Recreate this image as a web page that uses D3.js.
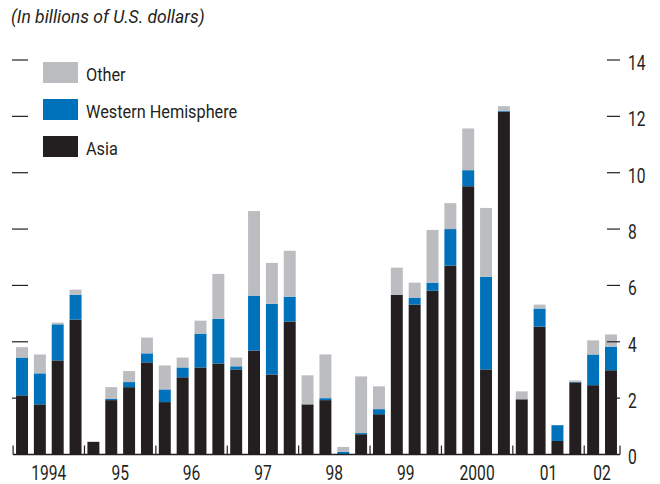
<!DOCTYPE html>
<meta charset="utf-8">
<html>
<head>
    <script src="https://d3js.org/d3.v7.min.js"></script>
    <style>
        body { margin: 0; background: #fff; }
        svg text { font-family: "Roboto", "Liberation Sans", sans-serif; fill: #231f20; }
        /* squeeze text a bit, the original uses a condensed face */
        .narrow-left { transform-box: fill-box; transform-origin: left center; }
        .narrow-mid { transform-box: fill-box; transform-origin: center center; }
    </style>
</head>
<body>
<div id="chart"></div>
<script>
    // quarterly values, 1994Q1 .. 2002Q2
    var quarters = ["94Q1","94Q2","94Q3","94Q4","95Q1","95Q2","95Q3","95Q4",
                    "96Q1","96Q2","96Q3","96Q4","97Q1","97Q2","97Q3","97Q4",
                    "98Q1","98Q2","98Q3","98Q4","99Q1","99Q2","99Q3","99Q4",
                    "00Q1","00Q2","00Q3","00Q4","01Q1","01Q2","01Q3","01Q4",
                    "02Q1","02Q2"];
    var asia = [2.10, 1.78, 3.34, 4.79, 0.45, 1.93, 2.39, 3.27,
                1.86, 2.74, 3.09, 3.23, 3.02, 3.69, 2.84, 4.72,
                1.78, 1.93, 0.00, 0.72, 1.43, 5.67, 5.32, 5.81,
                6.70, 9.52, 3.02, 12.17, 1.96, 4.54, 0.48, 2.56,
                2.46, 2.99];
    var western = [1.34, 1.10, 1.28, 0.88, 0.00, 0.04, 0.18, 0.32,
                   0.45, 0.35, 1.20, 1.59, 0.11, 1.95, 2.51, 0.88,
                   0.00, 0.07, 0.09, 0.04, 0.18, 0.00, 0.25, 0.29,
                   1.30, 0.57, 3.29, 0.03, 0.00, 0.64, 0.56, 0.02,
                   1.09, 0.84];
    var other = [0.37, 0.67, 0.06, 0.18, 0.00, 0.42, 0.39, 0.56,
                 0.85, 0.35, 0.46, 1.59, 0.31, 3.00, 1.45, 1.63,
                 1.03, 1.55, 0.18, 2.01, 0.81, 0.96, 0.53, 1.87,
                 0.92, 1.48, 2.44, 0.16, 0.28, 0.14, 0.00, 0.05,
                 0.50, 0.43];
    var yearLabels = ["1994", "95", "96", "97", "98", "99", "2000", "01", "02"];
    var yTicks = [0, 2, 4, 6, 8, 10, 12, 14];

    var series = [
        { key: "asia", name: "Asia", color: "#231f20" },
        { key: "western", name: "Western Hemisphere", color: "#0072bc" },
        { key: "other", name: "Other", color: "#bcbdc1" }
    ];

    var table = quarters.map(function (q, i) {
        return { q: q, asia: asia[i], western: western[i], other: other[i] };
    });

    var width = 660, height = 484;
    var plotLeft = 13, plotRight = 620, plotTop = 60, plotBottom = 454.5;

    var svg = d3.select("#chart").append("svg")
        .attr("width", width)
        .attr("height", height);

    var x = d3.scaleBand()
        .domain(quarters)
        .range([plotLeft, plotRight])
        .paddingInner(0.33)
        .paddingOuter(0.17);

    var y = d3.scaleLinear()
        .domain([0, 14])
        .range([plotBottom, plotTop]);

    var stack = d3.stack().keys(series.map(function (s) { return s.key; }));
    var layers = stack(table);

    // bars
    svg.append("g").selectAll("g")
        .data(layers)
        .enter().append("g")
        .attr("fill", function (d, i) { return series[i].color; })
        .selectAll("rect")
        .data(function (d) { return d; })
        .enter().append("rect")
        .attr("x", function (d) { return x(d.data.q); })
        .attr("width", x.bandwidth())
        .attr("y", function (d) { return y(d[1]); })
        .attr("height", function (d) { return y(d[0]) - y(d[1]); });

    // right axis labels (sit a little below their ticks in the original)
    var rightAxis = svg.append("g")
        .attr("transform", "translate(" + plotRight + ",3)")
        .call(d3.axisRight(y).tickValues(yTicks).tickSize(0).tickPadding(8));
    rightAxis.select(".domain").remove();
    rightAxis.selectAll("text")
        .attr("class", "narrow-left")
        .style("font-size", "20px")
        .style("transform", "scaleX(0.78)")
        .attr("fill", "#231f20");

    // tick marks both sides
    svg.append("g").selectAll("line")
        .data(yTicks.slice(1))
        .enter().append("line")
        .attr("x1", plotRight - 13).attr("x2", plotRight)
        .attr("y1", function (d) { return y(d); })
        .attr("y2", function (d) { return y(d); })
        .attr("stroke", "#231f20").attr("stroke-width", 1.2);
    svg.append("g").selectAll("line")
        .data(yTicks.slice(1))
        .enter().append("line")
        .attr("x1", plotLeft - 1).attr("x2", plotLeft + 15)
        .attr("y1", function (d) { return y(d); })
        .attr("y2", function (d) { return y(d); })
        .attr("stroke", "#231f20").attr("stroke-width", 1.2);

    // baseline
    svg.append("line")
        .attr("x1", plotLeft).attr("x2", plotRight)
        .attr("y1", y(0)).attr("y2", y(0))
        .attr("stroke", "#231f20").attr("stroke-width", 1.5);

    // year separators
    var gap = x.step() * x.paddingInner() / 2;
    var seps = [];
    for (var i = 0; i < quarters.length; i += 4) seps.push(x(quarters[i]) - gap);
    seps.push(plotRight);
    svg.append("g").selectAll("line")
        .data(seps)
        .enter().append("line")
        .attr("x1", function (d) { return d; })
        .attr("x2", function (d) { return d; })
        .attr("y1", y(0) - 9).attr("y2", y(0))
        .attr("stroke", "#231f20").attr("stroke-width", 1.2);

    // year labels
    svg.append("g").selectAll("text")
        .data(yearLabels)
        .enter().append("text")
        .attr("class", "narrow-mid")
        .attr("x", function (d, i) { return (seps[i] + seps[i + 1]) / 2; })
        .attr("y", 480)
        .attr("text-anchor", "middle")
        .style("font-size", "19.5px")
        .style("transform", "scaleX(0.8)")
        .text(function (d) { return d; });

    // title
    svg.append("text")
        .attr("x", 11).attr("y", 23)
        .style("font-size", "17.5px")
        .style("font-style", "italic")
        .text("(In billions of U.S. dollars)");

    // legend
    var legend = svg.append("g").selectAll("g")
        .data(series.slice().reverse())
        .enter().append("g")
        .attr("transform", function (d, i) { return "translate(43," + (62 + i * 37) + ")"; });
    legend.append("rect")
        .attr("width", 35).attr("height", 21)
        .attr("fill", function (d) { return d.color; });
    legend.append("text")
        .attr("class", "narrow-left")
        .attr("x", 43).attr("y", 19.5)
        .style("font-size", "18.5px")
        .style("transform", "scaleX(0.88)")
        .text(function (d) { return d.name; });
</script>
</body>
</html>
